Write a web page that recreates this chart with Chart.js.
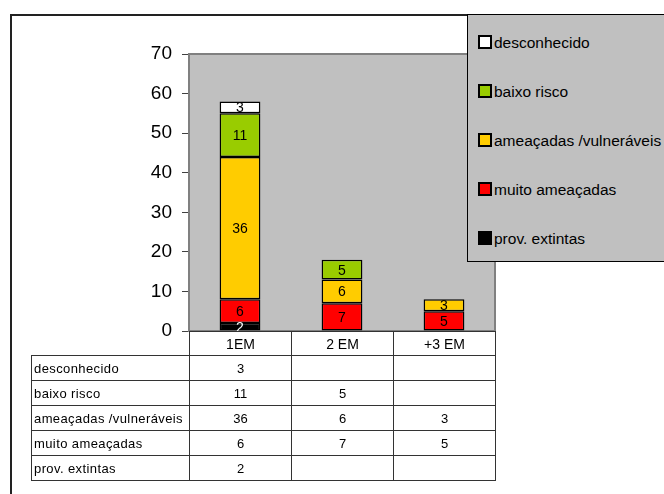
<!DOCTYPE html>
<html>
<head>
<meta charset="utf-8">
<script src="https://cdn.jsdelivr.net/npm/chart.js@4.4.1/dist/chart.umd.min.js"></script>
<style>
  body { margin: 0; background: #fff; font-family: "Liberation Sans", Arial, sans-serif; }
  #wrap { position: relative; width: 664px; height: 494px; overflow: hidden; }
  #frame { position: absolute; left: 10px; top: 14px; width: 700px; height: 520px; border: 2px solid #222; box-sizing: border-box; }
  #chart { position: absolute; left: 0; top: 0; }
  #legend { position: absolute; left: 467px; top: 14px; width: 240px; height: 248px; background: #c0c0c0; border: 1px solid #000; box-sizing: border-box; }
  .item { position: absolute; left: 10px; height: 16px; line-height: 16px; font-size: 15.5px; white-space: nowrap; color: #000; }
  .sw { display: inline-block; width: 10px; height: 10px; border: 2px solid #000; vertical-align: -1px; margin-right: 2px; }
  #table { position: absolute; left: 31px; top: 331px; border-collapse: collapse; table-layout: fixed; width: 464px; font-size: 13px; }
  #table td { border: 1px solid #333; padding: 0 2px; overflow: hidden; white-space: nowrap; }
  #table tr.head td { height: 23px; text-align: center; font-size: 14px; }
  #table tr.head td.blank { border: none; }
  #table tr.row td { height: 24px; text-align: center; }
  #table tr.row td.name { text-align: left; letter-spacing: 0.4px; }
</style>
</head>
<body>
<div id="wrap">
  <div id="frame"></div>
  <canvas id="chart" width="664" height="494"></canvas>
  <table id="table"></table>
  <div id="legend"></div>
</div>
<script>
// categories along the x axis
const categories = ['1EM', '2 EM', '+3 EM'];

// series, bottom of the stack first
const extintas = [2, null, null];
const muitoAmeacadas = [6, 7, 5];
const vulneraveis = [36, 6, 3];
const baixoRisco = [11, 5, null];
const desconhecido = [3, null, null];

const yTicks = [0, 10, 20, 30, 40, 50, 60, 70];

const series = [
  { label: 'prov. extintas', data: extintas, color: '#000000', text: '#ffffff' },
  { label: 'muito ameaçadas', data: muitoAmeacadas, color: '#ff0000', text: '#000000' },
  { label: 'ameaçadas /vulneráveis', data: vulneraveis, color: '#ffcc00', text: '#000000' },
  { label: 'baixo risco', data: baixoRisco, color: '#99cc00', text: '#000000' },
  { label: 'desconhecido', data: desconhecido, color: '#ffffff', text: '#000000' }
];

// gray plot area with its border
const plotBox = {
  id: 'plotBox',
  beforeDatasetsDraw(chart) {
    const { ctx, chartArea: a } = chart;
    ctx.save();
    ctx.fillStyle = '#c0c0c0';
    ctx.fillRect(a.left, a.top, a.right - a.left, a.bottom - a.top);
    ctx.strokeStyle = '#808080';
    ctx.lineWidth = 2;
    ctx.strokeRect(a.left, a.top, a.right - a.left, a.bottom - a.top);
    ctx.restore();
  }
};

// value written in the middle of each segment
const valueLabels = {
  id: 'valueLabels',
  afterDatasetsDraw(chart) {
    const ctx = chart.ctx;
    ctx.save();
    ctx.font = '14px "Liberation Sans", Arial, sans-serif';
    ctx.textAlign = 'center';
    ctx.textBaseline = 'middle';
    chart.data.datasets.forEach((ds, i) => {
      chart.getDatasetMeta(i).data.forEach((bar, j) => {
        const v = ds.data[j];
        if (v == null) return;
        const p = bar.getProps(['x', 'y', 'base'], true);
        ctx.fillStyle = series[i].text;
        ctx.fillText(String(v), p.x, (p.y + p.base) / 2 + 1);
      });
    });
    ctx.restore();
  }
};

new Chart(document.getElementById('chart'), {
  type: 'bar',
  data: {
    labels: categories,
    datasets: series.map(s => ({
      label: s.label,
      data: s.data,
      backgroundColor: s.color,
      borderColor: '#000',
      borderWidth: 1.5,
      borderSkipped: false,
      categoryPercentage: 1,
      barPercentage: 0.4
    }))
  },
  options: {
    responsive: false,
    animation: false,
    layout: { padding: { left: 0, top: 54, right: 169, bottom: 163 } },
    plugins: { legend: { display: false }, tooltip: { enabled: false } },
    scales: {
      x: { stacked: true, display: false },
      y: {
        stacked: true,
        min: 0,
        max: 70,
        afterBuildTicks: scale => { scale.ticks = yTicks.map(v => ({ value: v })); },
        afterFit: scale => { scale.width = 189; },
        border: { display: false },
        grid: { drawOnChartArea: false, drawTicks: true, tickLength: 7, color: '#404040' },
        ticks: { padding: 10, color: '#000', font: { family: '"Liberation Sans", Arial, sans-serif', size: 19 } }
      }
    }
  },
  plugins: [plotBox, valueLabels]
});

// data table under the plot, top row of the stack first
const table = document.getElementById('table');
let html = '<colgroup><col style="width:158px">' + categories.map(() => '<col style="width:102px">').join('') + '</colgroup>';
html += '<tr class="head"><td class="blank"></td>' + categories.map(c => '<td>' + c + '</td>').join('') + '</tr>';
series.slice().reverse().forEach(s => {
  html += '<tr class="row"><td class="name">' + s.label + '</td>' +
    s.data.map(v => '<td>' + (v == null ? '' : v) + '</td>').join('') + '</tr>';
});
table.innerHTML = html;

// legend box, same order as the table
const legend = document.getElementById('legend');
series.slice().reverse().forEach((s, i) => {
  const div = document.createElement('div');
  div.className = 'item';
  div.style.top = (20 + i * 49) + 'px';
  div.innerHTML = '<span class="sw" style="background:' + s.color + '"></span>' + s.label;
  legend.appendChild(div);
});
</script>
</body>
</html>
